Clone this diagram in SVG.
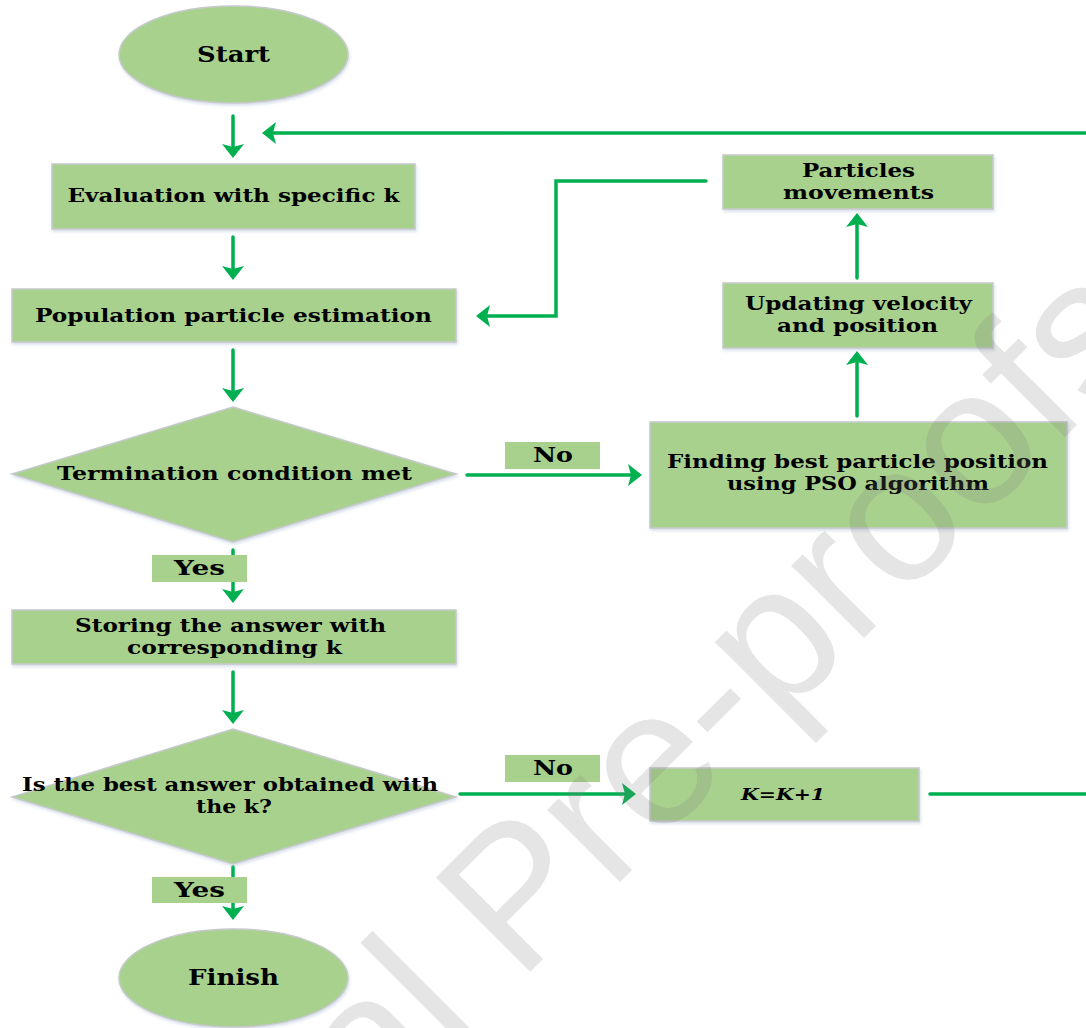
<svg xmlns="http://www.w3.org/2000/svg" width="1086" height="1028" viewBox="0 0 1086 1028">
<style>
.node{fill:#A9D18E;stroke:#c6c9cc;stroke-width:1.5;filter:url(#sh)}
.lbl{fill:#A9D18E}
.t{font-family:"DejaVu Serif","Liberation Serif",serif;font-weight:bold;font-size:19px;fill:#000;text-anchor:middle}
.big{font-size:22px}
.yn{font-size:21px}
.ki{font-style:italic;font-size:17px}
.c{fill:none;stroke:#00B050;stroke-width:3.5;stroke-linecap:round;stroke-linejoin:miter}
.a{marker-end:url(#ah)}
.wm{font-family:"Liberation Sans",Arial,sans-serif;font-size:194px;fill:#7f7f7f;opacity:0.2}
</style>
<defs>
<filter id="sh" x="-10%" y="-10%" width="120%" height="130%">
<feDropShadow dx="1" dy="2" stdDeviation="1.6" flood-color="#8fa6c8" flood-opacity="0.35"/>
</filter>
<marker id="ah" markerUnits="userSpaceOnUse" viewBox="0 0 14 22" refX="6" refY="11" markerWidth="14" markerHeight="22" orient="auto">
<path d="M0,0 L14,11 L0,22 L3,11 Z" fill="#00B050"/>
</marker>
</defs>
<rect width="1086" height="1028" fill="#fff"/>

<g id="connectors">
<line class="c a" x1="233" y1="116" x2="233" y2="150"/>
<line class="c a" x1="233" y1="237" x2="233" y2="272"/>
<line class="c a" x1="233" y1="350" x2="233" y2="394"/>
<line class="c a" x1="233" y1="550" x2="233" y2="595"/>
<line class="c a" x1="233" y1="672" x2="233" y2="716"/>
<line class="c a" x1="233" y1="867" x2="233" y2="912"/>
<line class="c a" x1="467" y1="475" x2="634" y2="475"/>
<line class="c a" x1="857" y1="416" x2="857" y2="359"/>
<line class="c a" x1="857" y1="278" x2="857" y2="221"/>
<polyline class="c a" points="706,181 556,181 556,316 484,316"/>
<line class="c a" x1="460" y1="794" x2="628" y2="794"/>
<line class="c" x1="930" y1="794" x2="1090" y2="794"/>
<line class="c a" x1="1090" y1="133" x2="270" y2="133"/>
</g>

<g id="start">
<ellipse class="node" cx="233.5" cy="54.5" rx="114.5" ry="48.5"/>
<text class="t big" x="233.5" y="62" textLength="73" lengthAdjust="spacingAndGlyphs">Start</text>
</g>
<g id="evaluation">
<rect class="node" x="52" y="164" width="363" height="65"/>
<text class="t" x="233.5" y="202" textLength="332" lengthAdjust="spacingAndGlyphs">Evaluation with specific k</text>
</g>
<g id="population">
<rect class="node" x="12" y="289" width="444" height="53"/>
<text class="t" x="233.5" y="322" textLength="397" lengthAdjust="spacingAndGlyphs">Population particle estimation</text>
</g>
<g id="termination">
<polygon class="node" points="233,407 456,474 233,542 12,474"/>
<text class="t" x="234.5" y="480" textLength="355" lengthAdjust="spacingAndGlyphs">Termination condition met</text>
</g>
<g id="yes1">
<rect class="lbl" x="152" y="555" width="95" height="27"/>
<text class="t yn" x="199.5" y="575" textLength="51" lengthAdjust="spacingAndGlyphs">Yes</text>
</g>
<g id="storing">
<rect class="node" x="12" y="610" width="444" height="54"/>
<text class="t" x="230.5" y="632" textLength="311" lengthAdjust="spacingAndGlyphs">Storing the answer with</text>
<text class="t" x="234.5" y="654" textLength="215" lengthAdjust="spacingAndGlyphs">corresponding k</text>
</g>
<g id="isbest">
<polygon class="node" points="233,729 456,797 233,864 12,797"/>
<text class="t" x="230" y="791" textLength="416" lengthAdjust="spacingAndGlyphs">Is the best answer obtained with</text>
<text class="t" x="234" y="813" textLength="76" lengthAdjust="spacingAndGlyphs">the k?</text>
</g>
<g id="yes2">
<rect class="lbl" x="152" y="877" width="95" height="26"/>
<text class="t yn" x="199.5" y="897" textLength="51" lengthAdjust="spacingAndGlyphs">Yes</text>
</g>
<g id="finish">
<ellipse class="node" cx="233.5" cy="978" rx="114.5" ry="49"/>
<text class="t big" x="233.5" y="985" textLength="91" lengthAdjust="spacingAndGlyphs">Finish</text>
</g>
<g id="no1">
<rect class="lbl" x="505" y="442" width="95" height="27"/>
<text class="t yn" x="553" y="462" textLength="40" lengthAdjust="spacingAndGlyphs">No</text>
</g>
<g id="finding">
<rect class="node" x="650" y="422" width="417" height="106"/>
<text class="t" x="857.5" y="468" textLength="381" lengthAdjust="spacingAndGlyphs">Finding best particle position</text>
<text class="t" x="858" y="490" textLength="262" lengthAdjust="spacingAndGlyphs">using PSO algorithm</text>
</g>
<g id="updating">
<rect class="node" x="723" y="283" width="270" height="65"/>
<text class="t" x="858.5" y="310" textLength="227" lengthAdjust="spacingAndGlyphs">Updating velocity</text>
<text class="t" x="857.5" y="332" textLength="161" lengthAdjust="spacingAndGlyphs">and position</text>
</g>
<g id="particles">
<rect class="node" x="723" y="155" width="270" height="54"/>
<text class="t" x="858.5" y="177" textLength="113" lengthAdjust="spacingAndGlyphs">Particles</text>
<text class="t" x="858.5" y="199" textLength="151" lengthAdjust="spacingAndGlyphs">movements</text>
</g>
<g id="no2">
<rect class="lbl" x="505" y="755" width="95" height="27"/>
<text class="t yn" x="553" y="775" textLength="40" lengthAdjust="spacingAndGlyphs">No</text>
</g>
<g id="kinc">
<rect class="node" x="650" y="768" width="269" height="53"/>
<text class="t ki" x="783" y="800" textLength="84" lengthAdjust="spacingAndGlyphs">K=K+1</text>
</g>

<text class="wm" transform="translate(31,1471) rotate(-45)" x="0" y="0">Journal Pre-proofs</text>
</svg>
